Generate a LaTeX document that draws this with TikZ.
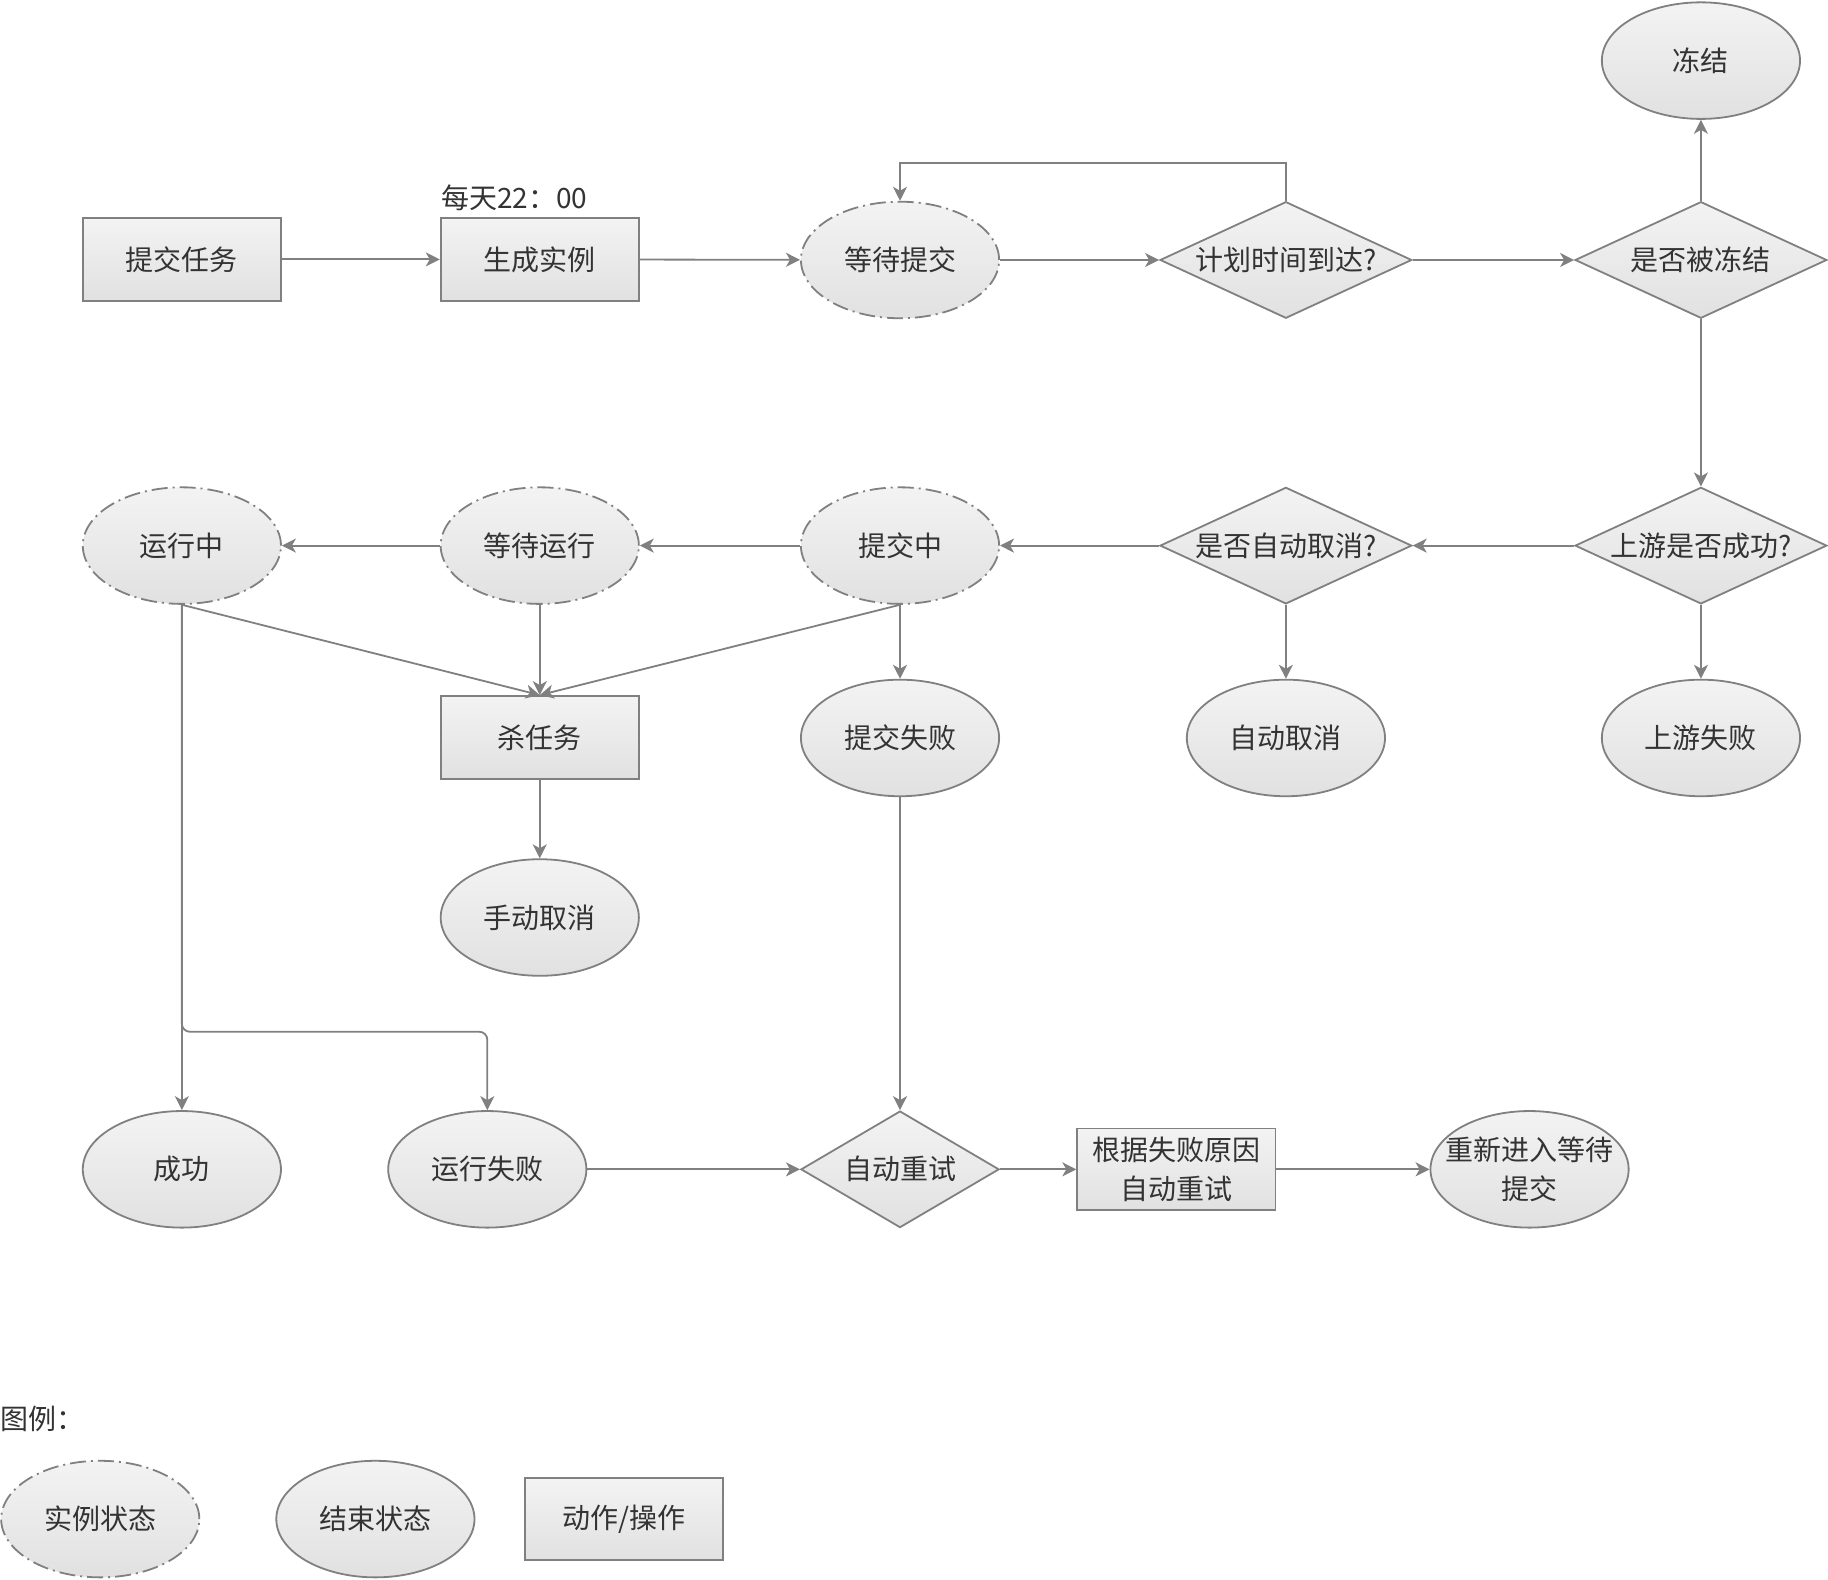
\documentclass[tikz,border=0pt]{standalone}
\usepackage{fontspec}
\setmainfont{Noto Sans CJK SC}
\usetikzlibrary{shapes.geometric,arrows.meta}
\newlength\pxu
\setlength\pxu{0.5829pt}
\definecolor{strk}{HTML}{808080}
\definecolor{ftop}{HTML}{F3F3F3}
\definecolor{fbot}{HTML}{E1E1E1}
\definecolor{txtc}{HTML}{333333}
\tikzset{
  txtfont/.style={text=txtc, font=\fontsize{14pt}{19.2pt}\selectfont, align=center},
  base/.style={draw=strk, line width=0.9pt, top color=ftop, bottom color=fbot, inner sep=0pt},
  actbox/.style={base, rectangle, minimum width=170\pxu, minimum height=71\pxu},
  endst/.style={base, ellipse, minimum width=170\pxu, minimum height=100\pxu},
  instst/.style={endst, dash pattern=on 8pt off 2.5pt on 1pt off 2.5pt},
  decis/.style={base, diamond, minimum width=216\pxu, minimum height=100\pxu},
  lbl/.style={label={[txtfont, inner sep=0pt]center:{#1}}},
  conn/.style={draw=strk, line width=0.9pt, -{Stealth[length=7pt,width=7pt,inset=2pt]}},
}
\begin{document}
\begin{tikzpicture}[x=\pxu, y=-\pxu]
\useasboundingbox (0,0) rectangle (1568,1355);

% row 1
\node[actbox, lbl=提交任务] (submit) at (156,222.5) {};
\node[actbox, lbl=生成实例] (gen) at (463,222.5) {};
\node[txtfont, anchor=west, inner sep=0pt] (daily) at (378,170) {每天22：00};
\node[instst, lbl=等待提交] (waitsub) at (772,223) {};
\node[decis, lbl=计划时间到达?] (plan) at (1103,223) {};
\node[decis, lbl=是否被冻结] (frozenq) at (1459,223) {};
\node[endst, lbl=冻结] (frozen) at (1459,52) {};

% row 2
\node[instst, lbl=运行中] (running) at (156,468) {};
\node[instst, lbl=等待运行] (waitrun) at (463,468) {};
\node[instst, lbl=提交中] (submitting) at (772,468) {};
\node[decis, lbl=是否自动取消?] (autocq) at (1103,468) {};
\node[decis, lbl=上游是否成功?] (upq) at (1459,468) {};

% row 3
\node[actbox, lbl=杀任务] (kill) at (463,632.5) {};
\node[endst, lbl=提交失败] (subfail) at (772,633) {};
\node[endst, lbl=自动取消] (autoc) at (1103,633) {};
\node[endst, lbl=上游失败] (upfail) at (1459,633) {};

% row 4
\node[endst, lbl=手动取消] (manual) at (463,787) {};

% row 5
\node[endst, lbl=成功] (success) at (156,1003) {};
\node[endst, lbl=运行失败] (runfail) at (418,1003) {};
\node[decis, minimum width=170\pxu, lbl=自动重试] (retryq) at (772,1003) {};
\node[actbox, minimum height=70\pxu, lbl={根据失败原因\\自动重试}] (reason) at (1009,1003) {};
\node[endst, lbl={重新进入等待\\提交}] (reenter) at (1312,1003) {};

% legend
\node[txtfont, anchor=west, inner sep=0pt] (legend) at (0,1217) {图例：};
\node[instst, lbl=实例状态] (lg1) at (86,1303) {};
\node[endst, lbl=结束状态] (lg2) at (322,1303) {};
\node[actbox, minimum height=70\pxu, lbl=动作/操作] (lg3) at (535,1303) {};

% connectors
\draw[conn] (submit) -- (gen);
\draw[conn] (gen) -- (waitsub);
\draw[conn] (waitsub) -- (plan);
\draw[conn] (plan.north) -- (plan.north |- 0,140) -| (waitsub.north);
\draw[conn] (plan) -- (frozenq);
\draw[conn] (frozenq) -- (frozen);
\draw[conn] (frozenq) -- (upq);
\draw[conn] (upq) -- (autocq);
\draw[conn] (autocq) -- (submitting);
\draw[conn] (submitting) -- (waitrun);
\draw[conn] (waitrun) -- (running);
\draw[conn] (upq) -- (upfail);
\draw[conn] (autocq) -- (autoc);
\draw[conn] (submitting) -- (subfail);
\draw[conn] (running.south) -- (kill.north);
\draw[conn] (waitrun.south) -- (kill.north);
\draw[conn] (submitting.south) -- (kill.north);
\draw[conn] (kill) -- (manual);
\draw[conn] (running.south) -- (success.north);
\draw[conn, rounded corners=4pt] (running.south) -- (running.south |- 0,885) -- (runfail.north |- 0,885) -- (runfail.north);
\draw[conn] (subfail) -- (retryq);
\draw[conn] (runfail) -- (retryq);
\draw[conn] (retryq) -- (reason);
\draw[conn] (reason) -- (reenter);
\end{tikzpicture}
\end{document}
